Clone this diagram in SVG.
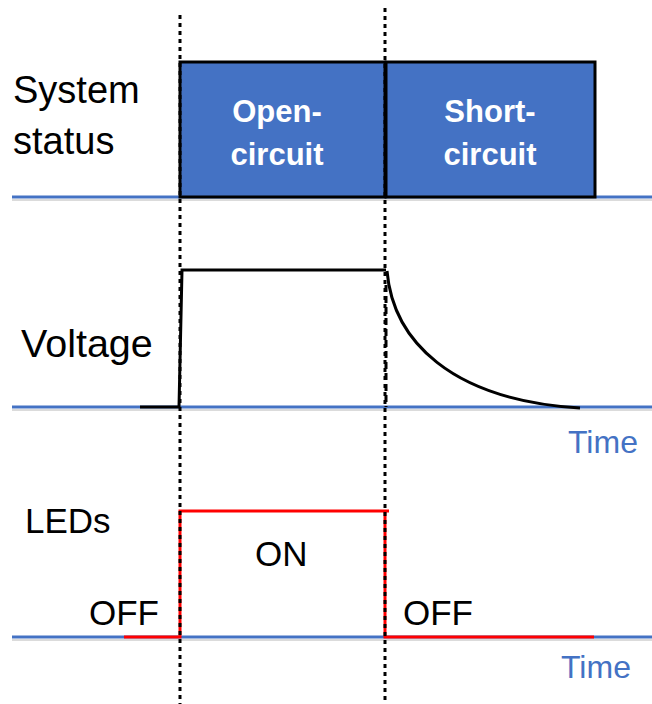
<svg xmlns="http://www.w3.org/2000/svg" width="652" height="704" viewBox="0 0 652 704">
<style>
.lbl{font-family:"Liberation Sans",Arial,sans-serif;font-size:38px;fill:#000}
.st{font-size:35px}
.box{fill:#4472C4;stroke:#000;stroke-width:3}
.btxt{font-family:"Liberation Sans",Arial,sans-serif;font-size:31px;font-weight:bold;fill:#fff;text-anchor:middle}
.axis{stroke:#4472C4;stroke-width:3;fill:none}
.shadow{stroke:#999;stroke-width:2;opacity:0.35;fill:none}
.dot{stroke:#000;stroke-width:3;stroke-dasharray:4 4;fill:none}
.sig{stroke:#000;stroke-width:3;fill:none}
.led{stroke:#f00;stroke-width:3;fill:none}
.time{font-family:"Liberation Sans",Arial,sans-serif;font-size:32px;fill:#4472C4}
</style>
<g id="axes">
<line class="shadow" x1="12" y1="200" x2="652" y2="200"/>
<line class="axis" x1="12" y1="197" x2="652" y2="197"/>
<line class="shadow" x1="12" y1="410" x2="652" y2="410"/>
<line class="axis" x1="12" y1="407" x2="652" y2="407"/>
<line class="shadow" x1="12" y1="640" x2="652" y2="640"/>
<line class="axis" x1="12" y1="637" x2="652" y2="637"/>
</g>
<g id="status-open">
<rect class="box" x="180" y="62" width="205" height="135"/>
<text class="btxt" x="277" y="122">Open-</text>
<text class="btxt" x="277" y="165">circuit</text>
</g>
<g id="status-short">
<rect class="box" x="386" y="62" width="209" height="135"/>
<text class="btxt" x="490" y="122">Short-</text>
<text class="btxt" x="490" y="165">circuit</text>
</g>
<g id="labels">
<text class="lbl" x="13" y="103">System</text>
<text class="lbl" x="13" y="154">status</text>
<text class="lbl" x="21" y="357" style="font-size:39.5px">Voltage</text>
<text class="lbl st" x="25" y="533">LEDs</text>
<text class="lbl st" x="89" y="625">OFF</text>
<text class="lbl st" x="255" y="566">ON</text>
<text class="lbl st" x="403" y="625">OFF</text>
<text class="time" x="568" y="453">Time</text>
<text class="time" x="561" y="678">Time</text>
</g>
<g id="voltage">
<path class="sig" d="M140,407 H179 L182,270 H386"/>
<path class="sig" d="M387,271 C393,340 450,400 580,408"/>
<line class="sig" x1="386" y1="285" x2="386" y2="407" stroke-dasharray="7 4"/>
</g>
<g id="leds">
<path class="led" d="M124,637 H180 V511 H389"/>
<path class="led" d="M385,511 V637 H594"/>
</g>
<g id="connectors">
<line class="dot" x1="180" y1="15" x2="180" y2="704"/>
<line class="dot" x1="385" y1="8" x2="385" y2="704"/>
</g>
</svg>
